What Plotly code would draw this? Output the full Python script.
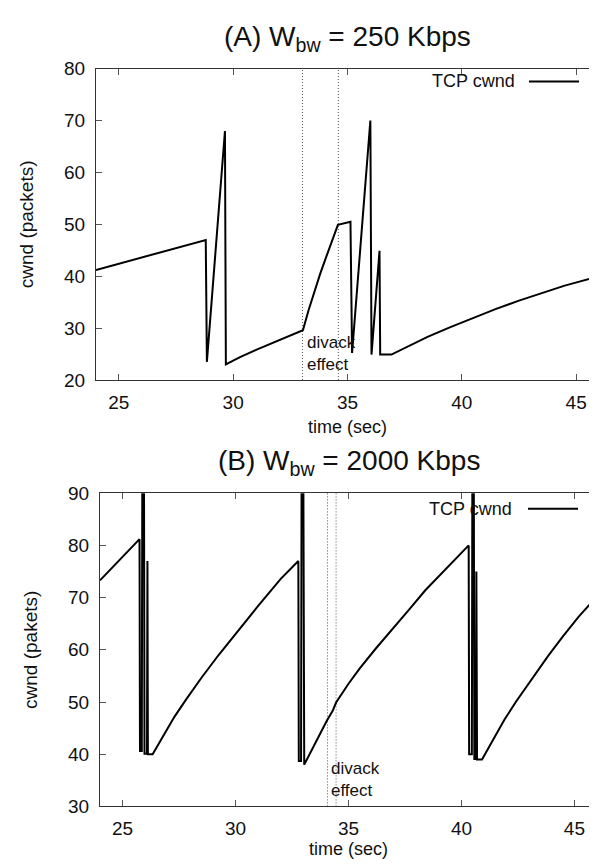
import plotly.graph_objects as go

# ---------------- data ----------------
# (A) W_bw = 250 Kbps
a_time = [24.0, 28.80, 28.85, 29.64, 29.68, 30.3, 31.0, 31.7, 32.4, 33.05,
          33.3, 33.55, 33.8, 34.05, 34.3, 34.58, 35.13, 35.2, 36.0, 36.05, 36.4, 36.43, 36.92,
          37.5, 38.5, 39.5, 40.5, 41.5, 42.5, 43.5, 44.5, 46.0]
a_cwnd = [41.2, 47.0, 23.5, 68.0, 23.0, 24.4, 25.8, 27.1, 28.4, 29.6,
          33.5, 37.1, 40.4, 43.5, 46.6, 49.9, 50.5, 25.2, 70.0, 24.9, 44.9, 24.9, 24.9,
          26.2, 28.3, 30.2, 32.0, 33.7, 35.3, 36.8, 38.2, 40.0]
a_divack = [33.03, 34.6]

# (B) W_bw = 2000 Kbps
b_time = [24.0, 24.9, 25.75, 25.77, 25.85, 25.88, 25.94, 25.97, 26.08, 26.10, 26.12, 26.33,
          26.8, 27.3, 27.83, 28.5, 29.25, 30.0, 31.0, 32.0, 32.78,
          32.80, 32.90, 32.93, 32.99, 33.04,
          33.5, 34.04, 34.3, 34.45, 35.0, 35.49, 36.2, 36.95, 37.7, 38.4, 39.4, 40.32,
          40.34, 40.46, 40.49, 40.54, 40.57, 40.64, 40.66, 40.69, 40.91,
          41.4, 41.9, 42.42, 43.1, 43.83, 44.5, 45.2, 46.0]
b_cwnd = [73.3, 77.3, 81.2, 40.6, 40.6, 110.0, 110.0, 40.1, 40.1, 77.0, 40.0, 40.0,
          43.6, 47.2, 50.6, 54.7, 59.0, 63.1, 68.4, 73.6, 77.0,
          38.7, 38.7, 110.0, 110.0, 38.0,
          41.9, 46.4, 48.3, 49.9, 53.5, 56.4, 60.2, 63.9, 67.8, 71.4, 75.9, 80.0,
          40.0, 40.0, 110.0, 110.0, 39.1, 39.1, 75.0, 39.0, 39.0,
          42.9, 46.6, 50.1, 54.4, 58.8, 62.6, 66.4, 70.2]
b_divack = [34.07, 34.45]

x_ticks = [25, 30, 35, 40, 45]
a_y_ticks = [20, 30, 40, 50, 60, 70, 80]
b_y_ticks = [30, 40, 50, 60, 70, 80, 90]

W, H = 597, 866
FONT = "Liberation Sans, Arial, Helvetica, sans-serif"

fig = go.Figure()
fig.add_trace(go.Scatter(x=a_time, y=a_cwnd, mode="lines", xaxis="x", yaxis="y",
                         line=dict(color="black", width=2), showlegend=False))
fig.add_trace(go.Scatter(x=b_time, y=b_cwnd, mode="lines", xaxis="x2", yaxis="y2",
                         line=dict(color="black", width=2), showlegend=False))

axis_common = dict(showgrid=False, zeroline=False, showline=True, linecolor="#333",
                   linewidth=1, mirror="ticks", ticks="inside", ticklen=6,
                   tickcolor="#555", tickfont=dict(size=19, color="#111", family=FONT))

fig.update_layout(
    width=W, height=H, margin=dict(l=0, r=0, t=0, b=0),
    paper_bgcolor="white", plot_bgcolor="white",
    font=dict(family=FONT, color="#111"),
    xaxis=dict(domain=[88 / W, 591 / W], range=[24, 46], tickvals=x_ticks, anchor="y",
               title=dict(text="time (sec)", font=dict(size=18), standoff=8),
               ticklabelstandoff=5, **axis_common),
    yaxis=dict(domain=[1 - 371 / H, 1 - 52 / H], range=[20, 80], tickvals=a_y_ticks, anchor="x",
               title=dict(text="cwnd (packets)", font=dict(size=19), standoff=25),
               ticklabelstandoff=6, **axis_common),
    xaxis2=dict(domain=[92 / W, 589 / W], range=[24, 46], tickvals=x_ticks, anchor="y2",
                title=dict(text="time (sec)", font=dict(size=18), standoff=4),
                ticklabelstandoff=5, **axis_common),
    yaxis2=dict(domain=[1 - 808 / H, 1 - 487 / H], range=[30, 90], tickvals=b_y_ticks, anchor="x2",
                title=dict(text="cwnd (pakets)", font=dict(size=19), standoff=25),
                ticklabelstandoff=6, **axis_common),
)

shapes = []
for xv in a_divack:
    shapes.append(dict(type="line", xref="x", yref="y domain", x0=xv, x1=xv, y0=0, y1=1,
                       line=dict(color="#555", width=1, dash="1px,2px"), layer="below"))
for xv in b_divack:
    shapes.append(dict(type="line", xref="x2", yref="y2 domain", x0=xv, x1=xv, y0=0, y1=1,
                       line=dict(color="#555", width=1, dash="1px,2px"), layer="below"))
# legend samples
shapes.append(dict(type="line", xref="paper", yref="paper", x0=521 / W, x1=571 / W,
                   y0=1 - 65 / H, y1=1 - 65 / H, line=dict(color="black", width=2)))
shapes.append(dict(type="line", xref="paper", yref="paper", x0=520 / W, x1=570 / W,
                   y0=1 - 503 / H, y1=1 - 503 / H, line=dict(color="black", width=2)))
fig.update_layout(shapes=shapes)

ann = []
ann.append(dict(text="(A) W<sub>bw</sub> = 250 Kbps", xref="paper", yref="paper",
                x=340 / W, y=1 - 21 / H, xanchor="center", yanchor="middle",
                showarrow=False, font=dict(size=28, color="#111")))
ann.append(dict(text="(B) W<sub>bw</sub> = 2000 Kbps", xref="paper", yref="paper",
                x=341 / W, y=1 - 456 / H, xanchor="center", yanchor="middle",
                showarrow=False, font=dict(size=28, color="#111")))
ann.append(dict(text="TCP cwnd", xref="paper", yref="paper", x=509 / W, y=1 - 65 / H,
                xanchor="right", yanchor="middle", showarrow=False, font=dict(size=18)))
ann.append(dict(text="TCP cwnd", xref="paper", yref="paper", x=506 / W, y=1 - 503 / H,
                xanchor="right", yanchor="middle", showarrow=False, font=dict(size=18)))
ann.append(dict(text="divack<br>effect", xref="x", yref="y", x=33.12, y=20.8, xanchor="left",
                yanchor="bottom", align="left", showarrow=False, font=dict(size=17)))
ann.append(dict(text="divack<br>effect", xref="x2", yref="y2", x=34.12, y=30.9, xanchor="left",
                yanchor="bottom", align="left", showarrow=False, font=dict(size=17)))
fig.update_layout(annotations=ann)

fig.write_html("out.html")
